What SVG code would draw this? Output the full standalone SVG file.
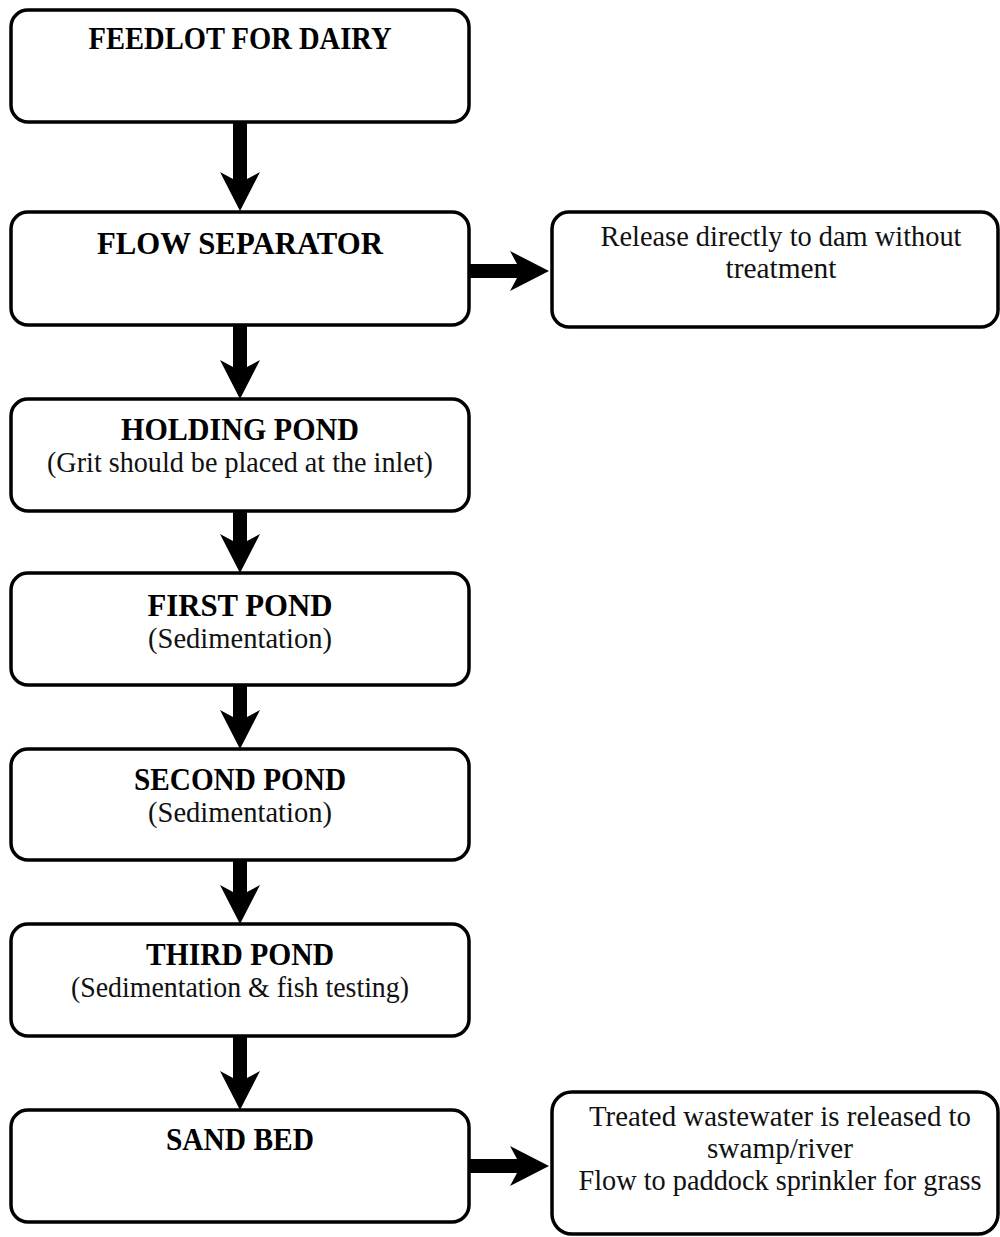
<svg xmlns="http://www.w3.org/2000/svg" width="1000" height="1237" viewBox="0 0 1000 1237">
<style>
.box{fill:#fff;stroke:#000;stroke-width:3.5}
.t{font-family:"Liberation Serif","Times New Roman",serif;font-weight:bold;font-size:31px;fill:#000;text-anchor:middle}
.s{font-family:"Liberation Serif","Times New Roman",serif;font-size:29px;fill:#111;text-anchor:middle}
.arr{fill:#000;stroke:none}
</style>
<rect width="1000" height="1237" fill="#fff"/>
<g id="connectors">
<polygon class="arr" points="233,122 247,122 247,179 260,172 240,211 220,172 233,179"/>
<polygon class="arr" points="233,325 247,325 247,367 260,360 240,399 220,360 233,367"/>
<polygon class="arr" points="233,511 247,511 247,541 260,534 240,573 220,534 233,541"/>
<polygon class="arr" points="233,685 247,685 247,717 260,710 240,749 220,710 233,717"/>
<polygon class="arr" points="233,860 247,860 247,892 260,885 240,924 220,885 233,892"/>
<polygon class="arr" points="233,1036 247,1036 247,1078 260,1071 240,1110 220,1071 233,1078"/>
<polygon class="arr" points="469,264 517,264 510,251 549,271 510,291 517,278 469,278"/>
<polygon class="arr" points="469,1159 517,1159 510,1146 549,1166 510,1186 517,1173 469,1173"/>
</g>
<g id="feedlot">
<rect class="box" x="11" y="10" width="458" height="112" rx="17"/>
<text class="t" x="240" y="49" textLength="303" lengthAdjust="spacingAndGlyphs">FEEDLOT FOR DAIRY</text>
</g>
<g id="flow-separator">
<rect class="box" x="11" y="212" width="458" height="113" rx="17"/>
<text class="t" x="240" y="254" textLength="286" lengthAdjust="spacingAndGlyphs">FLOW SEPARATOR</text>
</g>
<g id="release-dam">
<rect class="box" x="552" y="212" width="446" height="115" rx="17"/>
<text class="s" x="781" y="246" textLength="361" lengthAdjust="spacingAndGlyphs">Release directly to dam without</text>
<text class="s" x="781" y="278" textLength="111" lengthAdjust="spacingAndGlyphs">treatment</text>
</g>
<g id="holding-pond">
<rect class="box" x="11" y="399" width="458" height="112" rx="17"/>
<text class="t" x="240" y="440" textLength="238" lengthAdjust="spacingAndGlyphs">HOLDING POND</text>
<text class="s" x="240" y="472" textLength="386" lengthAdjust="spacingAndGlyphs">(Grit should be placed at the inlet)</text>
</g>
<g id="first-pond">
<rect class="box" x="11" y="573" width="458" height="112" rx="17"/>
<text class="t" x="240" y="616" textLength="185" lengthAdjust="spacingAndGlyphs">FIRST POND</text>
<text class="s" x="240" y="648" textLength="184" lengthAdjust="spacingAndGlyphs">(Sedimentation)</text>
</g>
<g id="second-pond">
<rect class="box" x="11" y="749" width="458" height="111" rx="17"/>
<text class="t" x="240" y="790" textLength="212" lengthAdjust="spacingAndGlyphs">SECOND POND</text>
<text class="s" x="240" y="822" textLength="184" lengthAdjust="spacingAndGlyphs">(Sedimentation)</text>
</g>
<g id="third-pond">
<rect class="box" x="11" y="924" width="458" height="112" rx="17"/>
<text class="t" x="240" y="965" textLength="188" lengthAdjust="spacingAndGlyphs">THIRD POND</text>
<text class="s" x="240" y="997" textLength="338" lengthAdjust="spacingAndGlyphs">(Sedimentation &amp; fish testing)</text>
</g>
<g id="sand-bed">
<rect class="box" x="11" y="1110" width="458" height="112" rx="17"/>
<text class="t" x="240" y="1150" textLength="148" lengthAdjust="spacingAndGlyphs">SAND BED</text>
</g>
<g id="treated-release">
<rect class="box" x="552" y="1092" width="446" height="142" rx="20"/>
<text class="s" x="780" y="1126" textLength="382" lengthAdjust="spacingAndGlyphs">Treated wastewater is released to</text>
<text class="s" x="780" y="1158" textLength="146" lengthAdjust="spacingAndGlyphs">swamp/river</text>
<text class="s" x="780" y="1190" textLength="403" lengthAdjust="spacingAndGlyphs">Flow to paddock sprinkler for grass</text>
</g>
</svg>
